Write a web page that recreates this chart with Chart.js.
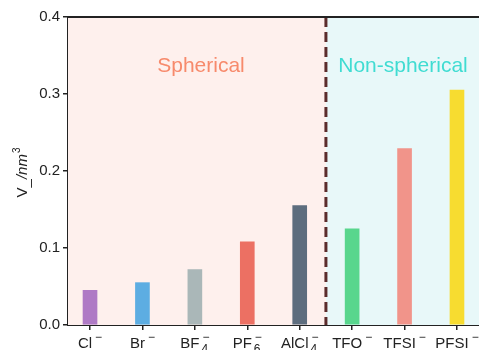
<!DOCTYPE html>
<html>
<head>
<meta charset="utf-8">
<script src="https://cdn.jsdelivr.net/npm/chart.js@4"></script>
<style>
  html, body { margin: 0; padding: 0; background: #fff; }
  #wrap { width: 479px; height: 350px; }
</style>
</head>
<body>
<div id="wrap"><canvas id="volChart" width="479" height="350"></canvas></div>
<script>
// anion names split into base / subscript / superscript parts
const labelBase = ['Cl', 'Br', 'BF', 'PF', 'AlCl', 'TFO', 'TFSI', 'PFSI'];
const labelSub = ['', '', '4', '6', '4', '', '', ''];
const labelSup = ['\u2212', '\u2212', '\u2212', '\u2212', '\u2212', '\u2212', '\u2212', '\u2212'];
const volumes = [0.045, 0.055, 0.072, 0.108, 0.155, 0.125, 0.229, 0.305];
const barColors = ['#af7ac5', '#5dade2', '#aab7b8', '#ec7063', '#5d6d7e', '#58d68d', '#f1948a', '#f7dc30'];
const yTicks = [0.0, 0.1, 0.2, 0.3, 0.4];

const FONT = '"Liberation Sans", Arial, sans-serif';
const INK = '#222222';

// background bands, divider, group titles, top spine, axis title, x labels
const decorPlugin = {
    id: 'decor',
    beforeDatasetsDraw(chart) {
        const { ctx, chartArea: a, scales: { x } } = chart;
        const split = x.getPixelForValue(4.5);
        ctx.save();
        ctx.fillStyle = '#fef0ed';
        ctx.fillRect(a.left, a.top, split - a.left, a.bottom - a.top);
        ctx.fillStyle = '#e8f8f9';
        ctx.fillRect(split, a.top, a.right - split, a.bottom - a.top);

        ctx.font = '21px ' + FONT;
        ctx.textAlign = 'center';
        ctx.textBaseline = 'middle';
        ctx.fillStyle = '#f78a6c';
        ctx.fillText('Spherical', 201, 66);
        ctx.fillStyle = '#40dcd2';
        ctx.fillText('Non-spherical', 403, 66);
        ctx.restore();
    },
    afterDatasetsDraw(chart) {
        const { ctx, chartArea: a, scales: { x } } = chart;
        const split = x.getPixelForValue(4.5);
        ctx.save();
        ctx.strokeStyle = '#5b2c2c';
        ctx.lineWidth = 3;
        ctx.setLineDash([10, 5]);
        ctx.beginPath();
        ctx.moveTo(split, a.top);
        ctx.lineTo(split, a.bottom);
        ctx.stroke();
        ctx.setLineDash([]);

        ctx.strokeStyle = INK;
        ctx.lineWidth = 2;
        ctx.beginPath();
        ctx.moveTo(a.left - 1, a.top);
        ctx.lineTo(a.right, a.top);
        ctx.stroke();
        ctx.restore();
    },
    afterDraw(chart) {
        const { ctx, chartArea: a, scales: { x } } = chart;
        ctx.save();
        ctx.fillStyle = INK;
        ctx.textBaseline = 'alphabetic';

        // x labels with stacked sub/superscripts
        labelBase.forEach((base, i) => {
            ctx.font = '15px ' + FONT;
            const wb = ctx.measureText(base).width;
            ctx.font = '12px ' + FONT;
            const ws = Math.max(ctx.measureText(labelSub[i]).width, ctx.measureText(labelSup[i]).width);
            const total = wb + 3 + ws;
            const x0 = x.getPixelForValue(i) - total / 2;
            const baseY = 348;
            ctx.textAlign = 'left';
            ctx.font = '15px ' + FONT;
            ctx.fillText(base, x0, baseY);
            ctx.font = '12px ' + FONT;
            ctx.fillText(labelSup[i], x0 + wb + 3, baseY - 7);
            if (labelSub[i]) ctx.fillText(labelSub[i], x0 + wb + 2, baseY + 5);
        });

        // y axis title V_/nm^3
        ctx.translate(22, (a.top + a.bottom) / 2 + 2);
        ctx.rotate(-Math.PI / 2);
        ctx.font = '15px ' + FONT;
        const wV = ctx.measureText('V').width;
        const wU = ctx.measureText('_').width;
        ctx.font = 'italic 15px ' + FONT;
        const w2 = ctx.measureText('/nm').width;
        ctx.font = '10px ' + FONT;
        const w3 = ctx.measureText('3').width;
        let cx = -(wV + wU + w2 + w3) / 2;
        ctx.textBaseline = 'alphabetic';
        ctx.textAlign = 'left';
        ctx.font = '15px ' + FONT;
        ctx.fillText('V', cx, 5);
        cx += wV;
        ctx.fillText('_', cx, 7);
        cx += wU;
        ctx.font = 'italic 15px ' + FONT;
        ctx.fillText('/nm', cx, 5);
        cx += w2;
        ctx.font = '10px ' + FONT;
        ctx.fillText('3', cx + 1, -2);
        ctx.restore();
    }
};

const volChart = new Chart(document.getElementById('volChart'), {
    type: 'bar',
    data: {
        datasets: [{
            data: volumes.map((v, i) => ({ x: i, y: v })),
            backgroundColor: barColors,
            borderWidth: 0,
            barThickness: 14
        }]
    },
    options: {
        responsive: false,
        animation: false,
        layout: { padding: { top: 17, right: 0, left: 0, bottom: 0 } },
        plugins: {
            legend: { display: false },
            tooltip: { enabled: false }
        },
        scales: {
            x: {
                type: 'linear',
                offset: false,
                min: -0.42,
                max: 7.42,
                afterBuildTicks: scale => {
                    scale.ticks = labelBase.map((_, i) => ({ value: i }));
                },
                afterFit: scale => { scale.height = 25; },
                ticks: { callback: () => '', padding: 0 },
                grid: { offset: false, drawOnChartArea: false, drawTicks: true, tickLength: 5, color: INK, lineWidth: 1.5 },
                border: { display: true, color: INK, width: 2 }
            },
            y: {
                min: 0,
                max: 0.4,
                afterBuildTicks: scale => {
                    scale.ticks = yTicks.map(v => ({ value: v }));
                },
                afterFit: scale => { scale.width = 68; },
                ticks: {
                    color: INK,
                    font: { family: FONT, size: 15 },
                    padding: 3,
                    callback: v => v.toFixed(1)
                },
                grid: { drawOnChartArea: false, drawTicks: true, tickLength: 5, color: INK, lineWidth: 1.5 },
                border: { display: true, color: INK, width: 2 }
            }
        }
    },
    plugins: [decorPlugin]
});
</script>
</body>
</html>
